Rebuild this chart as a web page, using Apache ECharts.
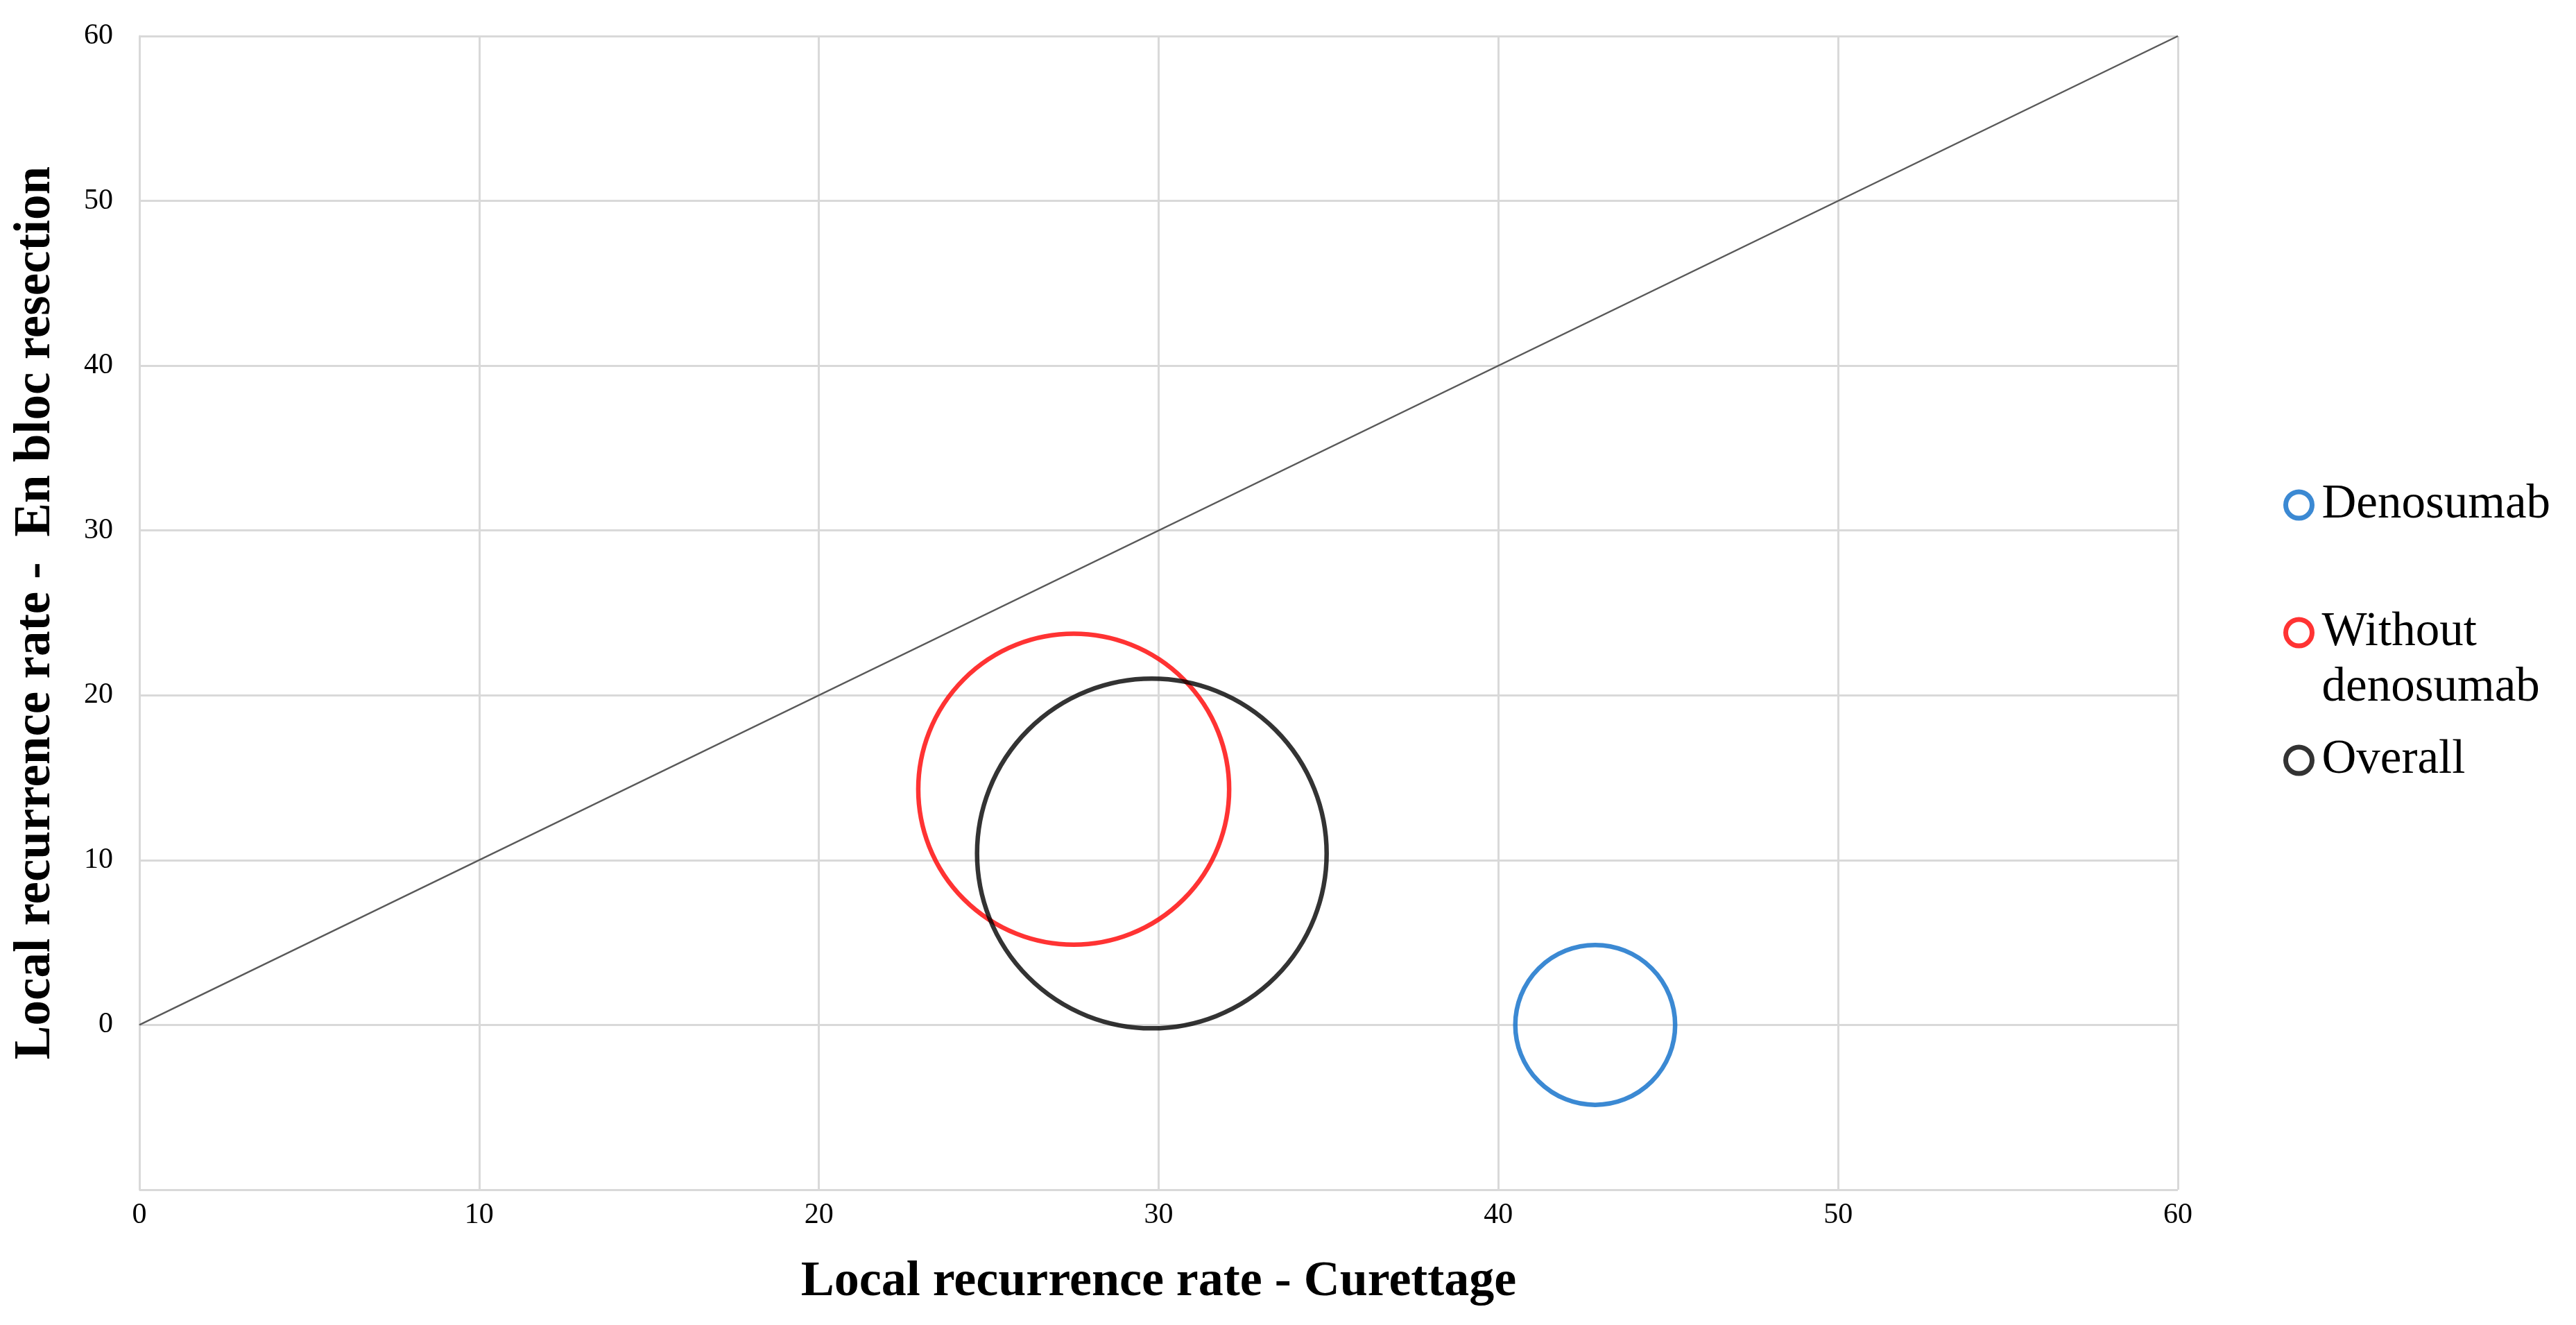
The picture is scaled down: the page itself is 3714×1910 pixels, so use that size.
<!DOCTYPE html>
<html>
<head>
<meta charset="utf-8">
<script src="https://cdn.jsdelivr.net/npm/echarts@6/dist/echarts.min.js"></script>
<style>
html,body{margin:0;padding:0;background:#fff;}
#chart{width:3714px;height:1910px;}
</style>
</head>
<body>
<div id="chart"></div>
<script>
// ---- data ----
const seriesNames = ['Denosumab', 'Without denosumab', 'Overall'];
const legendLabels = ['Denosumab', 'Without\ndenosumab', 'Overall'];
const curettageRate = [42.85, 27.5, 29.8];   // x: local recurrence rate - curettage
const enBlocRate = [0.0, 14.3, 10.4];        // y: local recurrence rate - en bloc resection
const bubbleValue = [23, 87, 110];           // relative bubble size (area)
const equalityLineX = [0, 60];
const equalityLineY = [0, 60];
const xTicks = [0, 10, 20, 30, 40, 50, 60];
const yTicks = [0, 10, 20, 30, 40, 50, 60];

// ---- styles ----
const colors = ['#0a6bc8', '#ff0000', '#000000'];
const FONT = 'Liberation Serif';
const GRID_COLOR = '#d9d9d9';
const maxBubble = Math.max.apply(null, bubbleValue);
const maxBubblePx = 504;

const chart = echarts.init(document.getElementById('chart'));

const bubbleSeries = seriesNames.map((name, i) => ({
  name: name,
  type: 'scatter',
  symbol: 'circle',
  data: [[curettageRate[i], enBlocRate[i], bubbleValue[i]]],
  symbolSize: v => maxBubblePx * Math.sqrt(v[2] / maxBubble),
  itemStyle: { color: 'rgba(0,0,0,0)', borderColor: colors[i], borderWidth: 6.5 },
  emphasis: { disabled: true },
  z: 3 + i
}));

// multi-line legend labels: leading blank line keeps the first line level with the marker
function legendText(name) {
  const label = legendLabels[seriesNames.indexOf(name)];
  return label.indexOf('\n') >= 0 ? '\n' + label : label;
}

const option = {
  backgroundColor: '#ffffff',
  animation: false,
  grid: { left: 201, right: 574, top: 52, bottom: 195, show: false },
  xAxis: {
    type: 'value',
    min: 0, max: 60, interval: 10,
    name: 'Local recurrence rate - Curettage',
    nameLocation: 'middle',
    nameGap: 97,
    nameTextStyle: { fontFamily: FONT, fontWeight: 'bold', fontSize: 72, color: '#000' },
    axisLine: { show: true, lineStyle: { color: GRID_COLOR, width: 3 } },
    axisTick: { show: false },
    axisLabel: {
      margin: 16, fontFamily: FONT, fontSize: 42, color: '#000',
      formatter: v => (xTicks.indexOf(v) >= 0 ? String(v) : '')
    },
    splitLine: { show: true, lineStyle: { color: GRID_COLOR, width: 3 } }
  },
  yAxis: {
    type: 'value',
    min: -10, max: 60, interval: 10,
    name: 'Local recurrence rate -  En bloc resection',
    nameLocation: 'middle',
    nameGap: 112,
    nameTextStyle: { fontFamily: FONT, fontWeight: 'bold', fontSize: 73, color: '#000' },
    axisLine: { show: true, onZero: false, lineStyle: { color: GRID_COLOR, width: 3 } },
    axisTick: { show: false },
    axisLabel: {
      margin: 38, fontFamily: FONT, fontSize: 42, color: '#000',
      formatter: v => (yTicks.indexOf(v) >= 0 ? String(v) : '')
    },
    splitLine: { show: true, lineStyle: { color: GRID_COLOR, width: 3 } }
  },
  legend: {
    orient: 'vertical',
    left: 3292,
    top: 688,
    padding: 0,
    itemGap: 24,
    itemWidth: 38,
    itemHeight: 38,
    selectedMode: false,
    textStyle: { fontFamily: FONT, fontSize: 69, color: '#000', lineHeight: 80, padding: [0, 0, 0, 9] },
    formatter: legendText,
    data: seriesNames.map((name, i) => ({
      name: name,
      icon: 'circle',
      itemStyle: { color: '#ffffff', borderColor: colors[i], borderWidth: 7 }
    }))
  },
  series: [
    {
      name: 'equality',
      type: 'line',
      data: equalityLineX.map((x, i) => [x, equalityLineY[i]]),
      symbol: 'none',
      lineStyle: { color: '#595959', width: 2.5 },
      silent: true,
      z: 2
    }
  ].concat(bubbleSeries)
};

chart.setOption(option);
</script>
</body>
</html>
